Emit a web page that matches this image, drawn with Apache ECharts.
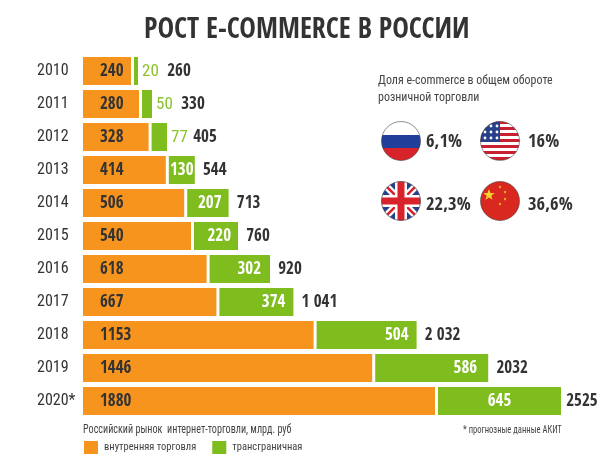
<!DOCTYPE html>
<html>
<head>
<meta charset="utf-8">
<style>
  html, body { margin: 0; padding: 0; background: #fff; }
  #chart { width: 610px; height: 465px; }
</style>
<script src="https://cdn.jsdelivr.net/npm/echarts@6/dist/echarts.min.js"></script>
</head>
<body>
<div id="chart"></div>
<script>
const years = ['2010', '2011', '2012', '2013', '2014', '2015', '2016', '2017', '2018', '2019', '2020*']
const domesticLabels = [240, 280, 328, 414, 506, 540, 618, 667, 1153, 1446, 1880]
const crossLabels = [20, 50, 77, 130, 207, 220, 302, 374, 504, 586, 645]
const totalLabels = ['260', '330', '405', '544', '713', '760', '920', '1 041', '2 032', '2032', '2525']
// the source draws the last bars shorter than their labels, so lengths are kept apart
const domesticLengths = [240, 280, 328, 414, 506, 540, 618, 667, 1153, 1446, 1760]
const crossLengths = [20, 50, 77, 130, 207, 220, 302, 370, 500, 565, 615]
const barGap = [15, 15, 15, 15, 15, 15, 15, 15, 15, 15, 15]
const totalAnchor = [1, 1, 1, 1, 1, 1, 1, 1, 1, 1, 1]

const shares = [
  { value: '6,1%', x: 426, y: 144 },
  { value: '16%', x: 528, y: 144 },
  { value: '22,3%', x: 426, y: 207 },
  { value: '36,6%', x: 528, y: 207 }
]

const boldFont = '"Open Sans Condensed", "Roboto Condensed", sans-serif'
const textFont = '"Roboto Condensed", Roboto, sans-serif'
const dark = '#333333'
const orange = '#f7941d'
const green = '#7fbc1e'

function svgFlag(body) {
  const svg = `<svg xmlns="http://www.w3.org/2000/svg" width="40" height="40" viewBox="0 0 40 40">` +
    `<defs><clipPath id="c"><circle cx="20" cy="20" r="19.5"/></clipPath></defs>` +
    `<g clip-path="url(#c)">${body}</g>` +
    `<circle cx="20" cy="20" r="19.5" fill="none" stroke="#444" stroke-width="0.6"/></svg>`
  return 'data:image/svg+xml;charset=utf-8,' + encodeURIComponent(svg)
}

const ruFlag = svgFlag(
  '<rect width="40" height="14" fill="#fff"/><rect y="14" width="40" height="13" fill="#1f3f9a"/>' +
  '<rect y="27" width="40" height="13" fill="#d8232a"/>')

let usBody = '<rect width="40" height="40" fill="#fff"/>'
for (let i = 0; i < 7; i++) usBody += `<rect y="${i * 6}" width="40" height="3" fill="#c8202f"/>`
usBody += '<rect width="20" height="21" fill="#27408b"/>'
for (let r = 0; r < 3; r++) {
  for (let c = 0; c < 3; c++) usBody += `<circle cx="${5 + c * 6}" cy="${5 + r * 6}" r="1.4" fill="#fff"/>`
}
const usFlag = svgFlag(usBody)

const ukFlag = svgFlag(
  '<rect width="40" height="40" fill="#27408b"/>' +
  '<path d="M0 0L40 40M40 0L0 40" stroke="#fff" stroke-width="7"/>' +
  '<path d="M0 0L40 40M40 0L0 40" stroke="#d8232a" stroke-width="2.5"/>' +
  '<path d="M20 0V40M0 20H40" stroke="#fff" stroke-width="12"/>' +
  '<path d="M20 0V40M0 20H40" stroke="#d8232a" stroke-width="7"/>')

const star = (x, y, r) => {
  let pts = ''
  for (let i = 0; i < 10; i++) {
    const a = -Math.PI / 2 + i * Math.PI / 5
    const d = i % 2 ? r * 0.4 : r
    pts += `${x + d * Math.cos(a)},${y + d * Math.sin(a)} `
  }
  return `<polygon points="${pts}" fill="#f6d32d"/>`
}
const cnFlag = svgFlag('<rect width="40" height="40" fill="#d8281f"/>' +
  star(9, 14, 6) + star(20, 6, 1.7) + star(25, 11, 1.7) + star(25, 18, 1.7) + star(20, 23, 1.7))

const chart = echarts.init(document.getElementById('chart'), null, { width: 610, height: 465 })

const flagImage = (image, x, y) => ({
  type: 'image',
  left: x,
  top: y,
  style: { image, x: 0, y: 0, width: 40, height: 40 }
})

// distance from bar end to the label, per year
const crossInset = [0, 0, 0, 0, 7, 7, 9, 8, 8, 11, 0]
const totalInset = [29, 29, 26, 8, 8, 8, 8, 8, 8, 8, 5]

const option = {
  animation: false,
  backgroundColor: '#fff',
  title: {
    text: 'РОСТ E-COMMERCE В РОССИИ',
    left: 139,
    top: 12,
    textStyle: { fontFamily: boldFont, fontWeight: 'bold', fontSize: 28, color: dark }
  },
  legend: {
    data: ['внутренняя торговля', 'трансграничная'],
    left: 84,
    top: 441,
    padding: 0,
    itemWidth: 14,
    itemHeight: 13,
    itemGap: 16,
    icon: 'rect',
    textStyle: { fontFamily: textFont, fontSize: 10.5, color: '#444', padding: [0, 0, 0, 1] }
  },
  grid: { left: 83, top: 54.5, width: 527, height: 363 },
  xAxis: { type: 'value', min: 0, max: 2635, show: false },
  yAxis: {
    type: 'category',
    inverse: true,
    data: years,
    axisLine: { show: false },
    axisTick: { show: false },
    axisLabel: { align: 'left', margin: 46, fontFamily: textFont, fontSize: 16, color: dark, padding: [7, 0, 0, 0] }
  },
  series: [
    {
      name: 'внутренняя торговля',
      type: 'bar',
      stack: 'market',
      barWidth: 28,
      data: domesticLengths,
      itemStyle: { color: orange },
      label: {
        show: true,
        position: 'insideLeft',
        distance: 17,
        offset: [0, 1],
        fontFamily: boldFont,
        fontWeight: 'bold',
        fontSize: 17,
        color: dark,
        formatter: p => domesticLabels[p.dataIndex]
      }
    },
    {
      name: 'spacer',
      type: 'bar',
      stack: 'market',
      data: barGap,
      itemStyle: { color: 'transparent' },
      silent: true
    },
    {
      name: 'трансграничная',
      type: 'bar',
      stack: 'market',
      data: crossLengths.map((v, i) => {
        let label = { position: 'insideRight', distance: crossInset[i], color: '#fff' }
        if (i < 3) {
          label = { position: 'right', distance: 4, color: '#8cc22f', fontFamily: textFont, fontWeight: 'normal' }
        }
        if (i === 3 || i === 10) label = { position: 'inside', color: '#fff' }
        return { value: v, label }
      }),
      itemStyle: { color: green },
      label: {
        show: true,
        offset: [0, 1],
        fontFamily: boldFont,
        fontWeight: 'bold',
        fontSize: 17,
        formatter: p => crossLabels[p.dataIndex]
      }
    },
    {
      name: 'total',
      type: 'bar',
      stack: 'market',
      data: totalAnchor.map((v, i) => ({
        value: v,
        label: { distance: totalInset[i] }
      })),
      itemStyle: { color: 'transparent' },
      silent: true,
      label: {
        show: true,
        position: 'right',
        offset: [0, 1],
        fontFamily: boldFont,
        fontWeight: 'bold',
        fontSize: 17,
        color: dark,
        formatter: p => totalLabels[p.dataIndex]
      }
    }
  ],
  graphic: [
    {
      type: 'text', x: 378, y: 72, scaleX: 0.92,
      style: {
        text: 'Доля e-commerce в общем обороте\nрозничной торговли',
        font: '13px ' + textFont, fill: '#444', lineHeight: 17
      }
    },
    flagImage(ruFlag, 381, 121),
    flagImage(usFlag, 480, 121),
    flagImage(ukFlag, 381, 181),
    flagImage(cnFlag, 480, 181),
    ...shares.map(s => ({
      type: 'text', left: s.x, top: s.y - 11,
      style: { text: s.value, font: 'bold 18.5px ' + boldFont, fill: dark }
    })),
    {
      type: 'text', x: 83, y: 423, scaleX: 0.81,
      style: { text: 'Российский рынок  интернет-торговли, млрд. руб', font: '12.5px ' + textFont, fill: '#444' }
    },
    {
      type: 'text', x: 463, y: 425, scaleX: 0.855,
      style: { text: '* прогнозные данные АКИТ', font: '10px ' + textFont, fill: '#444' }
    }
  ]
}

chart.setOption(option)
</script>
</body>
</html>
